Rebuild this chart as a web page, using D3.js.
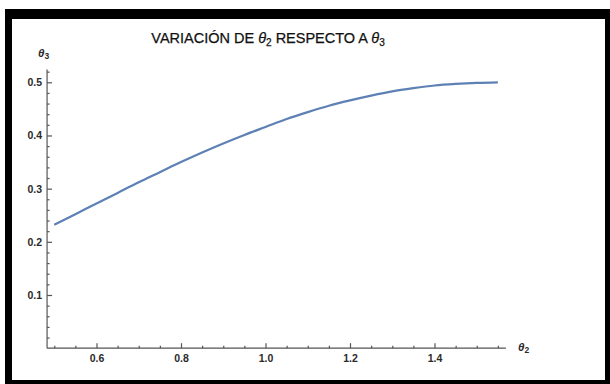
<!DOCTYPE html>
<html>
<head>
<meta charset="utf-8">
<script src="https://cdn.jsdelivr.net/npm/d3@7"></script>
<style>
  html, body { margin: 0; padding: 0; background: #fff; }
  svg { display: block; }
</style>
</head>
<body>
<svg id="chart" width="610" height="384"></svg>
<script>
// ---- data ----
const theta2 = [0.50, 0.55, 0.60, 0.65, 0.70, 0.75, 0.80, 0.85, 0.90, 0.95, 1.00,
                1.05, 1.10, 1.15, 1.20, 1.25, 1.30, 1.35, 1.40, 1.45, 1.50, 1.55];
const theta3 = [0.232, 0.252, 0.272, 0.292, 0.312, 0.331, 0.350, 0.368, 0.385, 0.401, 0.416,
                0.431, 0.444, 0.456, 0.466, 0.475, 0.483, 0.489, 0.494, 0.497, 0.499, 0.500];
const xMajor = [0.6, 0.8, 1.0, 1.2, 1.4];
const xMajorLabels = ["0.6", "0.8", "1.0", "1.2", "1.4"];
const xMinor = [0.5, 0.55, 0.65, 0.7, 0.75, 0.85, 0.9, 0.95, 1.05, 1.1, 1.15, 1.25, 1.3, 1.35, 1.45, 1.5, 1.55];
const yMajor = [0.1, 0.2, 0.3, 0.4, 0.5];
const yMajorLabels = ["0.1", "0.2", "0.3", "0.4", "0.5"];
const yMinor = [0.02, 0.04, 0.06, 0.08, 0.12, 0.14, 0.16, 0.18, 0.22, 0.24, 0.26, 0.28,
                0.32, 0.34, 0.36, 0.38, 0.42, 0.44, 0.46, 0.48, 0.52];
const xExtent = [0.483, 1.569];
const yExtent = [0, 0.524];

const svg = d3.select("#chart");

// frame
svg.append("rect").attr("x", 5).attr("y", 9).attr("width", 605).attr("height", 375).attr("fill", "#000");
svg.append("rect").attr("x", 12).attr("y", 19).attr("width", 593).attr("height", 361).attr("fill", "#fff");

const x = d3.scaleLinear().domain([0.6, 1.4]).range([96.5, 434.5]);
const y = d3.scaleLinear().domain([0.1, 0.5]).range([295, 82.3]);

const axisColor = "#555";
const labelColor = "#2a2a2a";
const font = "'Liberation Sans', Arial, sans-serif";
const x0 = x(xExtent[0]);
const y0 = y(0);

// x axis
const gx = svg.append("g").attr("transform", `translate(0,${y0})`);
gx.call(d3.axisBottom(x).tickValues(xMinor).tickFormat("").tickSizeInner(-2.5).tickSizeOuter(0));
gx.call(g => g.select(".domain").remove());
const gx2 = svg.append("g").attr("transform", `translate(0,${y0})`);
gx2.call(d3.axisBottom(x).tickValues(xMajor).tickFormat((d, i) => xMajorLabels[i]).tickSizeInner(-5).tickSizeOuter(0).tickPadding(6));
gx2.call(g => g.select(".domain").remove());
svg.append("line").attr("x1", x(xExtent[0])).attr("x2", x(xExtent[1]))
  .attr("y1", y0).attr("y2", y0).attr("stroke", axisColor).attr("stroke-width", 1.2);

// y axis
const gy = svg.append("g").attr("transform", `translate(${x0},0)`);
gy.call(d3.axisLeft(y).tickValues(yMinor).tickFormat("").tickSizeInner(-2.5).tickSizeOuter(0));
gy.call(g => g.select(".domain").remove());
const gy2 = svg.append("g").attr("transform", `translate(${x0},0)`);
gy2.call(d3.axisLeft(y).tickValues(yMajor).tickFormat((d, i) => yMajorLabels[i]).tickSizeInner(-5).tickSizeOuter(0).tickPadding(5));
gy2.call(g => g.select(".domain").remove());
svg.append("line").attr("x1", x0).attr("x2", x0)
  .attr("y1", y(yExtent[1])).attr("y2", y0).attr("stroke", axisColor).attr("stroke-width", 1.2);

svg.selectAll(".tick line").attr("stroke", axisColor).attr("stroke-width", 1.2);
svg.selectAll(".tick text").attr("fill", labelColor).attr("font-family", font)
  .attr("font-size", 10.5).attr("font-weight", "bold");

// curve
const pts = theta2.map((d, i) => [d, theta3[i]]);
svg.append("path").datum(pts)
  .attr("fill", "none").attr("stroke", "#5E81B5").attr("stroke-width", 2.2)
  .attr("d", d3.line().x(d => x(d[0])).y(d => y(d[1])).curve(d3.curveMonotoneX));

// title
const title = svg.append("text").attr("x", 268).attr("y", 43).attr("text-anchor", "middle")
  .attr("font-family", font).attr("font-size", 14.5).attr("fill", "#111")
  .attr("stroke", "#111").attr("stroke-width", 0.25);
title.append("tspan").text("VARIACIÓN DE ");
title.append("tspan").attr("font-style", "italic").text("θ");
title.append("tspan").attr("font-size", 10).attr("dy", 3).text("2");
title.append("tspan").attr("dy", -3).text(" RESPECTO A ");
title.append("tspan").attr("font-style", "italic").text("θ");
title.append("tspan").attr("font-size", 10).attr("dy", 3).text("3");

// axis labels
const yl = svg.append("text").attr("x", 38).attr("y", 57)
  .attr("font-family", font).attr("font-size", 11.5).attr("font-weight", "bold").attr("fill", labelColor);
yl.append("tspan").attr("font-style", "italic").text("θ");
yl.append("tspan").attr("font-size", 8.5).attr("dy", 2).text("3");

const xl = svg.append("text").attr("x", 518).attr("y", 351)
  .attr("font-family", font).attr("font-size", 11.5).attr("font-weight", "bold").attr("fill", labelColor);
xl.append("tspan").attr("font-style", "italic").text("θ");
xl.append("tspan").attr("font-size", 8.5).attr("dy", 2).text("2");
</script>
</body>
</html>
